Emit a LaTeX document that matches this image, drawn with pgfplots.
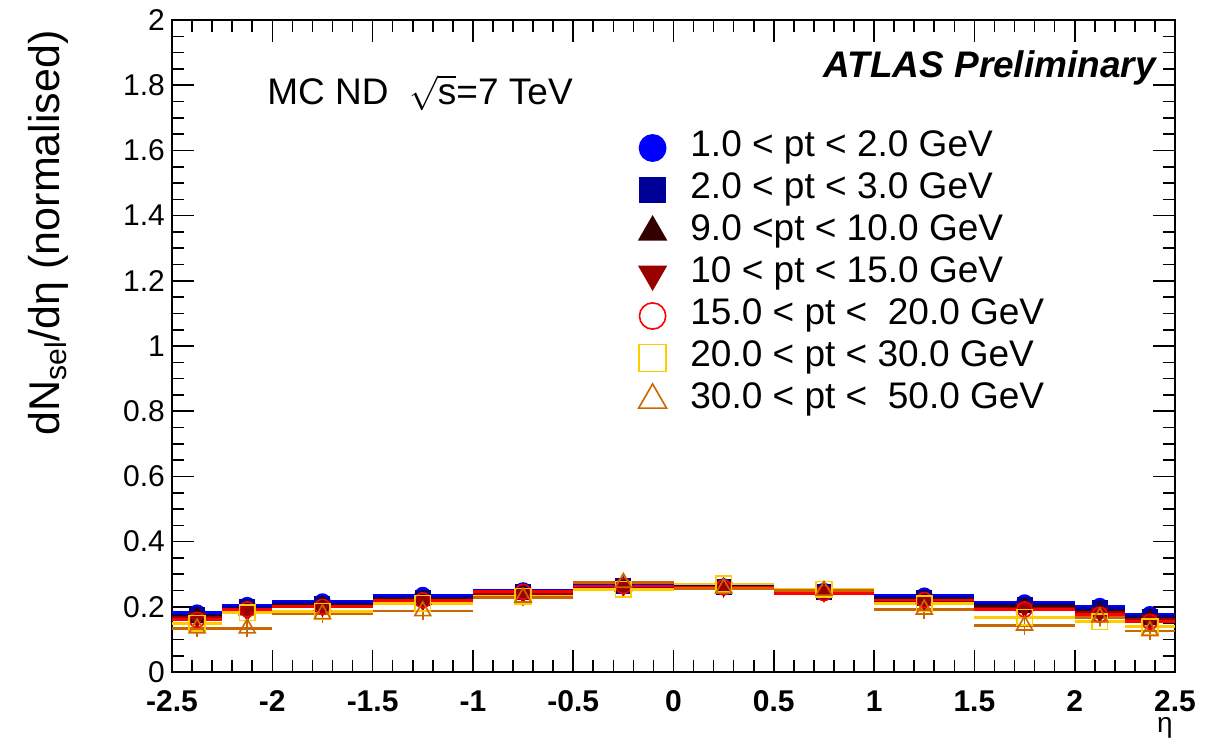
\documentclass[border=0pt]{standalone}
\usepackage{pgfplots}
\usepackage{pgfplotstable}
\pgfplotsset{compat=1.18}
\usepackage{fontspec}
\setmainfont{Liberation Sans}
\definecolor{c1}{RGB}{0,0,255}
\definecolor{c2}{RGB}{0,0,153}
\definecolor{c3}{RGB}{51,0,0}
\definecolor{c4}{RGB}{153,0,0}
\definecolor{c5}{RGB}{255,0,0}
\definecolor{c6}{RGB}{255,204,0}
\definecolor{c7}{RGB}{204,102,0}
\pgfplotstableread{
x xe s1 s2 s3 s4 s5 s6 s7
-2.375 0.125 0.182 0.175 0.170 0.166 0.160 0.149 0.134
-2.125 0.125 0.205 0.198 0.190 0.186 0.192 0.182 0.134
-1.75 0.25 0.216 0.210 0.204 0.200 0.200 0.186 0.178
-1.25 0.25 0.236 0.228 0.222 0.218 0.220 0.211 0.187
-0.75 0.25 0.250 0.246 0.243 0.242 0.246 0.232 0.229
-0.25 0.25 0.265 0.264 0.262 0.262 0.264 0.254 0.274
0.25 0.25 0.262 0.262 0.260 0.260 0.260 0.270 0.256
0.75 0.25 0.248 0.246 0.245 0.244 0.242 0.254 0.250
1.25 0.25 0.234 0.228 0.224 0.220 0.221 0.209 0.192
1.75 0.25 0.213 0.207 0.200 0.196 0.192 0.168 0.143
2.125 0.125 0.202 0.195 0.185 0.182 0.176 0.154 0.168
2.375 0.125 0.177 0.170 0.164 0.160 0.154 0.139 0.126
}\data
\pgfplotsset{
  hbar/.style={forget plot, draw=none, mark=none,
    error bars/x dir=both, error bars/x explicit, error bars/error mark=none,
    error bars/error bar style={line width=1.4pt, draw=#1}},
  pts/.style 2 args={#1, only marks, line width=0.8pt,
    error bars/y dir=both, error bars/y fixed=#2, error bars/error mark=none,
    error bars/error bar style={line width=0.8pt, draw=#1}},
}
\begin{document}
\begin{tikzpicture}
\begin{axis}[
  scale only axis, width=501.5pt, height=326pt,
  xmin=-2.5, xmax=2.5, ymin=0, ymax=2,
  xtick={-2.5,-2,...,2.5}, ytick={0,0.2,...,2.01},
  minor x tick num=4, minor y tick num=3,
  tick align=inside, major tick length=11pt, minor tick length=6pt,
  axis line style={line width=1pt},
  tick style={line width=0.8pt, black},
  /pgf/number format/assume math mode=true,
  yticklabel style={font=\fontsize{15}{18}\selectfont},
  xticklabel style={font=\bfseries\fontsize{15}{18}\selectfont, inner sep=1pt, yshift=-8pt},
  xlabel={η},
  xlabel style={at={(rel axis cs:0.99,0)}, anchor=base, inner sep=0pt, yshift=-30pt, font=\fontsize{14}{16}\selectfont},
  ylabel={dN\textsubscript{sel}/dη (normalised)},
  ylabel style={at={(rel axis cs:-0.0967,0.995)}, anchor=south east, font=\fontsize{21.5}{24}\selectfont},
  legend style={draw=none, fill=none, at={(axis cs:-0.18,1.673)}, anchor=north west,
    inner sep=0pt, column sep=11.5pt, font=\fontsize{18.5}{22}\selectfont,
    nodes={inner sep=0pt, text height=14.5pt, text depth=6.5pt}},
  legend cell align=left,
  legend image code/.code={\draw[#1, mark size=1.75*\pgfplotmarksize] plot coordinates {(7pt,0pt)}; \path (0pt,0pt) (14pt,0pt);},
]
\coordinate (bl) at (rel axis cs:0,0);
\coordinate (tr) at (rel axis cs:1,1);
\addplot[hbar=c1] table[x=x, y=s1, x error=xe] \data;
\addplot[hbar=c2] table[x=x, y=s2, x error=xe] \data;
\addplot[hbar=c3] table[x=x, y=s3, x error=xe] \data;
\addplot[hbar=c4] table[x=x, y=s4, x error=xe] \data;
\addplot[hbar=c5] table[x=x, y=s5, x error=xe] \data;
\addplot[hbar=c6] table[x=x, y=s6, x error=xe] \data;
\addplot[hbar=c7] table[x=x, y=s7, x error=xe] \data;
\addplot[pts={c1}{0.008}, mark=*, mark size=3.75pt] table[x=x, y=s1] \data;
\addlegendentry{1.0 < pt < 2.0 GeV}
\addplot[pts={c2}{0.008}, mark=square*, mark size=3.6pt] table[x=x, y=s2] \data;
\addlegendentry{2.0 < pt < 3.0 GeV}
\addplot[pts={c3}{0.01}, mark=triangle*, mark size=4.4pt] table[x=x, y=s3] \data;
\addlegendentry{9.0 <pt < 10.0 GeV}
\addplot[pts={c4}{0.01}, mark=triangle*, mark size=4.4pt, mark options={rotate=180}] table[x=x, y=s4] \data;
\addlegendentry{10 < pt < 15.0 GeV}
\addplot[pts={c5}{0.012}, mark=o, mark size=3.75pt] table[x=x, y=s5] \data;
\addlegendentry{15.0 < pt < \ 20.0 GeV}
\addplot[pts={c6}{0.016}, mark=square, mark size=3.9pt] table[x=x, y=s6] \data;
\addlegendentry{20.0 < pt < 30.0 GeV}
\addplot[pts={c7}{0.028}, mark=triangle, mark size=4.6pt] table[x=x, y=s7] \data;
\addlegendentry{30.0 < pt < \ 50.0 GeV}
\node[anchor=west, font=\fontsize{18.5}{20}\selectfont] at (axis cs:-2.06,1.776) {MC ND\ \ $\sqrt{\hbox{s}}$=7 TeV};
\node[anchor=east, font=\bfseries\itshape\fontsize{18.5}{20}\selectfont] at (axis cs:2.44,1.853) {ATLAS Preliminary};
\end{axis}
\pgfresetboundingbox
\path ([xshift=-86pt,yshift=-34pt]bl) rectangle ([xshift=23pt,yshift=10pt]tr);
\end{tikzpicture}
\end{document}
